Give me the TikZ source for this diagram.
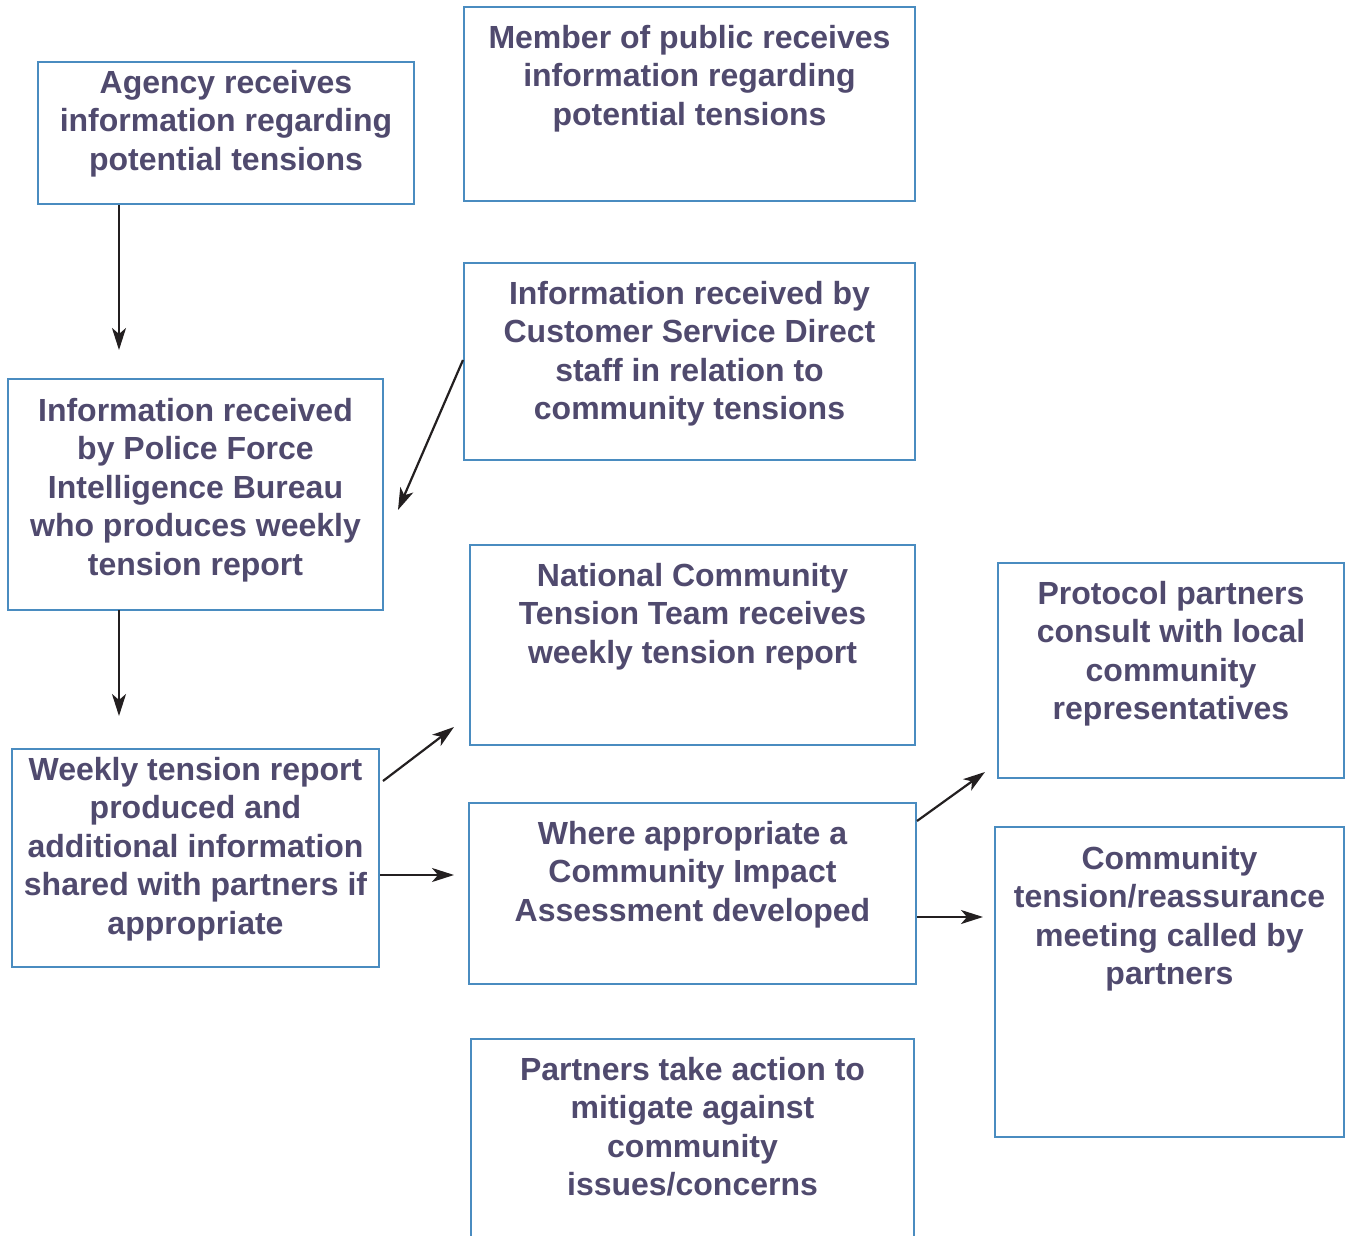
\documentclass[tikz,border=0pt]{standalone}
\usepackage{fontspec}
\setmainfont{Liberation Sans}
\usetikzlibrary{arrows.meta,calc}
\definecolor{boxc}{RGB}{74,140,192}
\definecolor{txtc}{RGB}{80,74,110}
\definecolor{arrc}{RGB}{35,31,32}
\tikzset{
  box/.style={draw=boxc, line width=2.4pt, rectangle, inner sep=0pt, outer sep=0pt, anchor=north west},
  lbl/.style={text=txtc, font=\bfseries\fontsize{32}{38.5}\selectfont, align=center, inner sep=0pt, anchor=north},
  arr/.style={draw=arrc, line width=2.2pt, -{Stealth[length=22pt,width=14pt,inset=6pt]}}
}
\begin{document}
\begin{tikzpicture}[x=1pt,y=-1pt]
\clip (0,0) rectangle (1353,1236);
\fill[white] (0,0) rectangle (1353,1236);
% boxes
\node[box, minimum width=376pt, minimum height=142pt] (agency) at (38,62) {};
\node[box, minimum width=451pt, minimum height=194pt] (member) at (464,7) {};
\node[box, minimum width=451pt, minimum height=197pt] (csd) at (464,263) {};
\node[box, minimum width=375pt, minimum height=231pt] (police) at (8,379) {};
\node[box, minimum width=445pt, minimum height=200pt] (nctt) at (470,545) {};
\node[box, minimum width=367pt, minimum height=218pt] (weekly) at (12,749) {};
\node[box, minimum width=447pt, minimum height=181pt] (cia) at (469,803) {};
\node[box, minimum width=346pt, minimum height=215pt] (protocol) at (998,563) {};
\node[box, minimum width=349pt, minimum height=310pt] (commtens) at (995,827) {};
\node[box, minimum width=443pt, minimum height=230pt] (partners) at (471,1039) {};
% labels
\node[lbl] (tagency) at ($(agency.north)+(0,8)$) {Agency receives\\information regarding\\potential tensions};
\node[lbl] (tmember) at ($(member.north)+(0,18)$) {Member of public receives\\information regarding\\potential tensions};
\node[lbl] (tcsd) at ($(csd.north)+(0,18)$) {Information received by\\Customer Service Direct\\staff in relation to\\community tensions};
\node[lbl] (tpolice) at ($(police.north)+(0,19)$) {Information received\\by Police Force\\Intelligence Bureau\\who produces weekly\\tension report};
\node[lbl] (tnctt) at ($(nctt.north)+(0,18)$) {National Community\\Tension Team receives\\weekly tension report};
\node[lbl] (tweekly) at ($(weekly.north)+(0,8)$) {Weekly tension report\\produced and\\additional information\\shared with partners if\\appropriate};
\node[lbl] (tcia) at ($(cia.north)+(0,18)$) {Where appropriate a\\Community Impact\\Assessment developed};
\node[lbl] (tprotocol) at ($(protocol.north)+(0,18)$) {Protocol partners\\consult with local\\community\\representatives};
\node[lbl] (tcommtens) at ($(commtens.north)+(0,19)$) {Community\\tension/reassurance\\meeting called by\\partners};
\node[lbl] (tpartners) at ($(partners.north)+(0,18)$) {Partners take action to\\mitigate against\\community\\issues/concerns};
% arrow ends
\coordinate (e1) at (119,350);
\coordinate (e2) at (398,510);
\coordinate (e3) at (119,716);
\coordinate (e4) at (454,727);
\coordinate (e5) at (454,875);
\coordinate (e6) at (985,772);
\coordinate (e7) at (983,917);
% connectors
\draw[arr] ($(agency.south west)+(81,1)$) -- (e1);
\draw[arr] ($(csd.north west)+(-1,97)$) -- (e2);
\draw[arr] ($(police.south west)+(111,0)$) -- (e3);
\draw[arr] ($(weekly.north east)+(4,32)$) -- (e4);
\draw[arr] ($(weekly.north east)+(1,126)$) -- (e5);
\draw[arr] ($(cia.north east)+(1,18)$) -- (e6);
\draw[arr] ($(cia.north east)+(1,114)$) -- (e7);
\end{tikzpicture}
\end{document}
